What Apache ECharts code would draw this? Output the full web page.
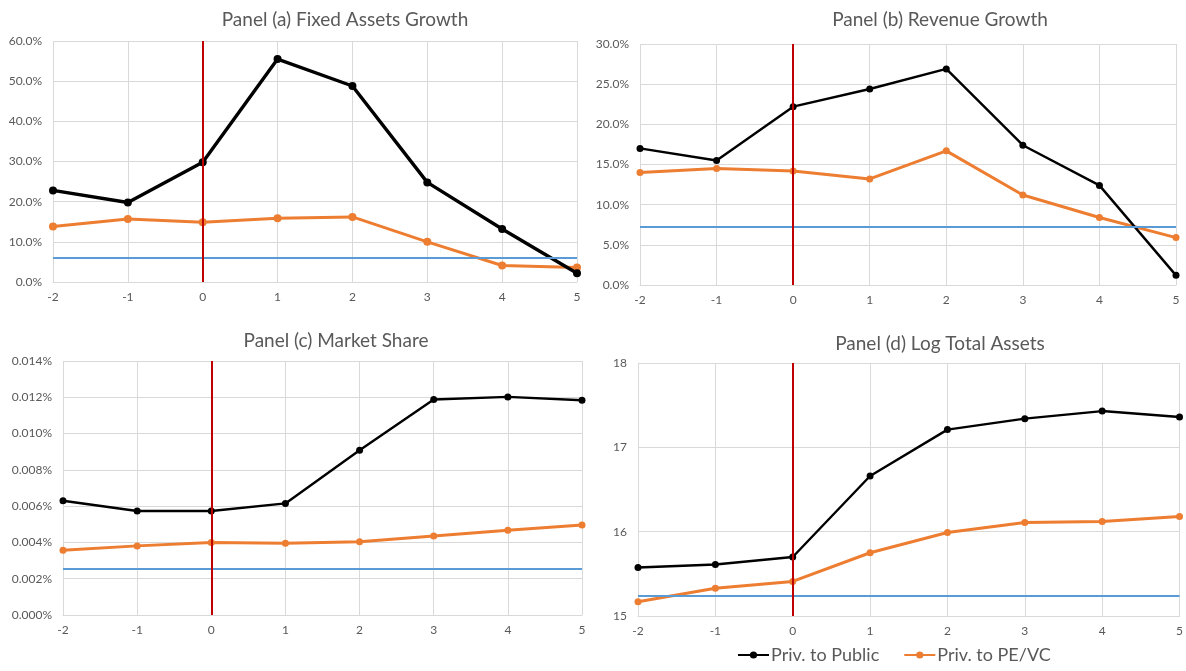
<!DOCTYPE html>
<html>
<head>
<meta charset="utf-8">
<script src="https://cdn.jsdelivr.net/npm/echarts@6/dist/echarts.min.js"></script>
<style>
  html, body { margin: 0; padding: 0; background: #ffffff; }
  #chart { width: 1186px; height: 671px; }
</style>
</head>
<body>
<div id="chart"></div>
<script>
// Event time (years relative to the transaction)
const years = [-2, -1, 0, 1, 2, 3, 4, 5];
const eventYear = 0;

const seriesNames = ['Priv. to Public', 'Priv. to PE/VC'];

// Panel (a) Fixed assets growth, percent
const fixedAssetsPublic = [22.8, 19.8, 29.8, 55.5, 48.8, 24.8, 13.2, 2.2];
const fixedAssetsPEVC   = [13.8, 15.7, 14.9, 15.9, 16.2, 10.0, 4.1, 3.6];
const fixedAssetsBench  = 6.0;

// Panel (b) Revenue growth, percent
const revenuePublic = [17.0, 15.5, 22.2, 24.4, 26.9, 17.4, 12.4, 1.2];
const revenuePEVC   = [14.0, 14.5, 14.2, 13.2, 16.7, 11.2, 8.4, 5.9];
const revenueBench  = 7.3;

// Panel (c) Market share, percent
const sharePublic = [0.00630, 0.00573, 0.00573, 0.00615, 0.00908, 0.01188, 0.01202, 0.01184];
const sharePEVC   = [0.00357, 0.00381, 0.00399, 0.00395, 0.00404, 0.00436, 0.00467, 0.00496];
const shareBench  = 0.00254;

// Panel (d) Log total assets
const assetsPublic = [15.575, 15.61, 15.70, 16.66, 17.21, 17.34, 17.43, 17.36];
const assetsPEVC   = [15.17, 15.33, 15.41, 15.75, 15.99, 16.11, 16.12, 16.18];
const assetsBench  = 15.24;

const panels = [
  { title: 'Panel (a) Fixed Assets Growth', pub: fixedAssetsPublic, pe: fixedAssetsPEVC, bench: fixedAssetsBench,
    yMin: 0, yMax: 60, yStep: 10, fmt: v => v.toFixed(1) + '%', pubWidth: 3.4, dot: 8,
    grid: { left: 53, top: 41, width: 524, height: 241 }, titleCenter: [345, 19] },
  { title: 'Panel (b) Revenue Growth', pub: revenuePublic, pe: revenuePEVC, bench: revenueBench,
    yMin: 0, yMax: 30, yStep: 5, fmt: v => v.toFixed(1) + '%', pubWidth: 2.4, dot: 7,
    grid: { left: 640, top: 44, width: 536, height: 241 }, titleCenter: [940, 19] },
  { title: 'Panel (c) Market Share', pub: sharePublic, pe: sharePEVC, bench: shareBench,
    yMin: 0, yMax: 0.014, yStep: 0.002, fmt: v => v.toFixed(3) + '%', pubWidth: 2.4, dot: 7,
    grid: { left: 63, top: 361, width: 519, height: 254 }, titleCenter: [336, 340] },
  { title: 'Panel (d) Log Total Assets', pub: assetsPublic, pe: assetsPEVC, bench: assetsBench,
    yMin: 15, yMax: 18, yStep: 1, fmt: v => String(Math.round(v)), pubWidth: 2.4, dot: 7,
    grid: { left: 638, top: 363, width: 542, height: 253 }, titleCenter: [940, 343] }
];

const FONT = 'Lato, "Open Sans", "Liberation Sans", sans-serif';
const TEXT = '#595959';
const GRIDLINE = '#d9d9d9';
const BLACK = '#000000';
const ORANGE = '#ed7d31';
const RED = '#c00000';
const BLUE = '#5b9bd5';
const TITLE_SIZE = 19;

const pairs = vals => years.map((x, i) => [x, vals[i]]);

const option = {
  animation: false,
  backgroundColor: '#ffffff',
  textStyle: { fontFamily: FONT },
  title: panels.map(p => ({
    text: p.title,
    left: p.titleCenter[0],
    top: p.titleCenter[1] - TITLE_SIZE * 0.46,
    textAlign: 'center',
    padding: 0,
    textStyle: { fontFamily: FONT, fontSize: TITLE_SIZE, fontWeight: 'normal', color: TEXT }
  })),
  legend: {
    data: seriesNames,
    left: 737,
    top: 646,
    itemWidth: 31,
    itemHeight: 9,
    itemGap: 24,
    padding: 0,
    textStyle: { fontFamily: FONT, fontSize: 18, color: TEXT, padding: [0, 0, 0, -3] }
  },
  grid: panels.map(p => Object.assign({ containLabel: false }, p.grid)),
  xAxis: panels.map((p, i) => ({
    type: 'value',
    gridIndex: i,
    min: years[0],
    max: years[years.length - 1],
    interval: 1,
    axisLine: { show: true, lineStyle: { color: GRIDLINE, width: 1 } },
    axisTick: { show: false },
    axisLabel: { color: TEXT, fontSize: 12, fontFamily: FONT, margin: 9 },
    splitLine: { show: true, lineStyle: { color: GRIDLINE, width: 1 } }
  })),
  yAxis: panels.map((p, i) => ({
    type: 'value',
    gridIndex: i,
    min: p.yMin,
    max: p.yMax,
    interval: p.yStep,
    axisLine: { show: false },
    axisTick: { show: false },
    axisLabel: { color: TEXT, fontSize: 12, fontFamily: FONT, margin: 11, formatter: p.fmt },
    splitLine: { show: true, lineStyle: { color: GRIDLINE, width: 1 } }
  })),
  series: []
};

panels.forEach((p, i) => {
  // Benchmark level (blue) and event year (red) reference lines
  option.series.push({
    type: 'line',
    xAxisIndex: i,
    yAxisIndex: i,
    data: [],
    silent: true,
    z: 1,
    markLine: {
      symbol: 'none',
      silent: true,
      precision: 8,
      animation: false,
      label: { show: false },
      emphasis: { disabled: true },
      data: [
        { yAxis: p.bench, lineStyle: { color: BLUE, width: 2, type: 'solid' } },
        { xAxis: eventYear, lineStyle: { color: RED, width: 2, type: 'solid' } }
      ]
    }
  });
  option.series.push({
    name: seriesNames[0],
    type: 'line',
    xAxisIndex: i,
    yAxisIndex: i,
    data: pairs(p.pub),
    symbol: 'circle',
    symbolSize: p.dot,
    showAllSymbol: true,
    z: 3,
    itemStyle: { color: BLACK },
    lineStyle: { color: BLACK, width: p.pubWidth }
  });
  option.series.push({
    name: seriesNames[1],
    type: 'line',
    xAxisIndex: i,
    yAxisIndex: i,
    data: pairs(p.pe),
    symbol: 'circle',
    symbolSize: p.dot,
    showAllSymbol: true,
    z: 2,
    itemStyle: { color: ORANGE },
    lineStyle: { color: ORANGE, width: 3 }
  });
});

const chart = echarts.init(document.getElementById('chart'), null, { renderer: 'canvas', width: 1186, height: 671 });
chart.setOption(option);
</script>
</body>
</html>
